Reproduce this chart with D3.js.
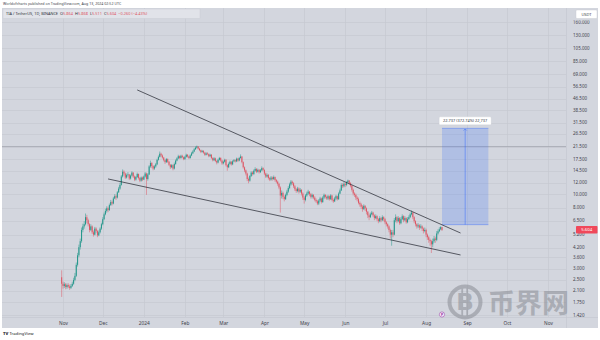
<!DOCTYPE html>
<html>
<head>
<meta charset="utf-8">
<script src="https://cdn.jsdelivr.net/npm/d3@7"></script>
<style>
  html, body { margin: 0; padding: 0; background: #ffffff; }
  svg { display: block; font-family: "Noto Sans", Roboto, "Liberation Sans", sans-serif; }
</style>
</head>
<body>
<svg id="chart" width="600" height="340"></svg>
<script>
// TIA / TetherUS daily candles, Binance, from 2023-10-31 to 2024-08-13
const startDay = "2023-10-31";
const firstOpen = 2.61;

const closes = [
  2.35, 2.27, 2.33, 2.23, 2.30, 2.25, 2.20, 2.27, 2.35, 2.50,
  2.67, 3.19, 3.72, 4.24, 4.67, 5.60, 5.93, 6.14, 6.88, 6.55,
  6.14, 5.60, 5.93, 5.39, 5.19, 5.72, 5.50, 5.13, 5.39, 5.72,
  6.14, 6.66, 7.20, 7.61, 7.94, 7.72, 8.36, 8.78, 8.57, 9.30,
  9.65, 9.44, 10.28, 10.91, 11.57, 13.26, 14.33, 13.91, 13.04, 13.57,
  13.70, 12.83, 13.47, 14.12, 13.26, 12.62, 13.15, 13.81, 12.94, 12.41,
  13.04, 12.62, 13.26, 13.91, 12.73, 13.70, 15.60, 16.50, 15.70, 15.07,
  15.60, 16.13, 17.35, 18.20, 19.15, 18.62, 17.99, 17.25, 16.72, 17.56,
  16.82, 16.02, 15.39, 15.92, 15.07, 16.23, 17.14, 17.77, 18.41, 17.88,
  18.52, 18.09, 17.56, 18.20, 18.83, 18.30, 17.88, 18.62, 19.26, 19.84,
  20.58, 21.11, 21.54, 20.80, 20.27, 19.73, 20.05, 19.47, 18.83, 19.26,
  19.04, 18.41, 18.83, 17.88, 17.25, 17.77, 17.03, 16.61, 17.35, 17.88,
  17.14, 16.40, 16.82, 17.35, 15.92, 15.39, 16.23, 16.82, 16.13, 16.93,
  17.25, 16.93, 17.67, 17.14, 17.88, 18.30, 16.72, 15.39, 14.65, 13.91,
  12.73, 12.41, 13.36, 14.12, 13.81, 14.55, 14.97, 14.33, 14.76, 14.23,
  14.65, 15.18, 14.76, 13.91, 13.26, 13.57, 12.94, 12.62, 13.04, 12.73,
  13.15, 12.52, 12.20, 11.78, 11.12, 9.76, 10.18, 9.55, 9.20, 9.86,
  10.39, 11.01, 11.68, 12.20, 11.89, 11.33, 10.80, 10.49, 10.91, 10.39,
  10.70, 10.07, 9.44, 9.09, 9.76, 10.07, 10.39, 9.97, 9.55, 9.86,
  9.44, 9.09, 8.88, 8.57, 8.99, 9.30, 8.78, 9.44, 9.86, 9.55,
  9.30, 9.65, 9.20, 9.76, 9.09, 8.88, 9.30, 9.65, 9.20, 10.07,
  10.59, 11.57, 11.33, 11.78, 11.57, 12.10, 12.41, 11.89, 11.43, 10.70,
  10.07, 9.86, 9.44, 9.20, 8.67, 8.46, 8.15, 7.84, 8.26, 7.94,
  7.51, 7.09, 6.88, 7.20, 7.41, 7.09, 6.78, 6.99, 6.66, 6.45,
  6.78, 6.55, 6.88, 6.66, 6.34, 6.14, 5.93, 5.60, 5.19, 5.39,
  5.19, 6.55, 6.88, 6.45, 6.78, 6.24, 6.66, 6.99, 6.55, 6.78,
  6.34, 6.66, 6.88, 7.20, 7.41, 6.88, 6.45, 6.14, 5.93, 6.03,
  5.82, 5.93, 5.72, 5.50, 5.60, 5.19, 4.98, 4.77, 4.67, 4.44,
  4.67, 4.87, 4.77, 5.29, 5.48, 5.66, 5.864, 5.604
];

const highs = [
  2.92, 2.43, 2.41, 2.38, 2.36, 2.37, 2.32, 2.34, 2.43, 2.59,
  2.80, 3.31, 3.87, 4.42, 4.87, 5.82, 6.19, 6.45, 7.30, 7.14,
  6.71, 6.24, 6.14, 6.03, 5.55, 5.88, 5.84, 5.60, 5.55, 5.84,
  6.29, 6.88, 7.41, 7.89, 8.20, 8.15, 8.57, 9.09, 8.99, 9.55,
  9.97, 9.91, 10.49, 11.22, 11.99, 13.57, 14.86, 14.65, 14.12, 13.91,
  14.23, 13.81, 13.70, 14.44, 14.23, 13.47, 13.36, 14.12, 13.91, 13.15,
  13.26, 13.26, 13.47, 14.23, 14.12, 14.02, 15.92, 17.14, 16.72, 15.92,
  15.92, 16.50, 17.67, 18.62, 19.84, 19.47, 18.94, 18.20, 17.46, 17.88,
  17.77, 17.03, 16.23, 16.23, 16.13, 16.61, 17.46, 18.09, 18.83, 18.62,
  18.83, 18.83, 18.30, 18.52, 19.15, 19.04, 18.52, 18.94, 19.73, 20.27,
  21.01, 21.54, 21.85, 21.60, 21.01, 20.48, 20.37, 20.27, 19.73, 19.63,
  19.63, 19.26, 19.15, 19.04, 18.09, 18.09, 17.99, 17.25, 17.67, 18.20,
  18.09, 17.35, 17.14, 17.67, 17.56, 16.13, 16.61, 17.14, 17.03, 17.25,
  17.56, 17.46, 17.99, 17.88, 18.20, 18.94, 18.41, 16.93, 15.60, 14.86,
  14.12, 13.04, 13.57, 14.44, 14.44, 14.86, 15.39, 15.18, 15.07, 14.97,
  14.97, 15.60, 15.39, 14.86, 14.12, 13.91, 13.81, 13.15, 13.36, 13.26,
  13.47, 13.26, 12.73, 12.41, 11.99, 11.33, 10.59, 10.39, 9.76, 10.07,
  10.70, 11.33, 11.99, 12.52, 12.41, 12.10, 11.57, 11.01, 11.22, 11.12,
  11.01, 10.80, 10.28, 9.65, 9.97, 10.39, 10.70, 10.49, 10.18, 10.07,
  9.97, 9.65, 9.30, 9.09, 9.20, 9.55, 9.44, 9.65, 10.07, 9.97,
  9.76, 9.86, 9.76, 9.97, 9.86, 9.30, 9.55, 9.86, 9.76, 10.28,
  10.91, 11.89, 11.89, 12.10, 11.99, 12.31, 12.62, 12.52, 12.10, 11.57,
  10.91, 10.28, 10.07, 9.65, 9.44, 8.88, 8.67, 8.36, 8.46, 8.36,
  8.05, 7.61, 7.30, 7.41, 7.61, 7.51, 7.20, 7.20, 7.09, 6.78,
  6.99, 6.88, 7.09, 6.99, 6.78, 6.45, 6.24, 6.03, 5.72, 5.60,
  5.60, 6.78, 7.20, 6.99, 6.99, 6.88, 6.88, 7.20, 7.09, 6.99,
  6.88, 6.88, 7.09, 7.41, 7.67, 7.51, 6.99, 6.55, 6.24, 6.24,
  6.14, 6.14, 6.03, 5.82, 5.82, 5.72, 5.29, 5.08, 4.87, 4.77,
  4.87, 5.08, 5.03, 5.50, 5.66, 5.85, 5.95, 5.868
];

const lows = [
  1.90, 2.17, 2.20, 2.15, 2.17, 2.19, 2.13, 2.16, 2.23, 2.31,
  2.45, 2.62, 3.10, 3.61, 4.08, 4.55, 5.39, 5.72, 6.03, 6.24,
  5.93, 5.39, 5.50, 5.24, 5.03, 5.13, 5.34, 4.98, 5.06, 5.29,
  5.60, 6.03, 6.55, 7.09, 7.41, 7.46, 7.61, 8.26, 8.31, 8.46,
  9.20, 9.09, 9.30, 10.18, 10.70, 11.43, 13.04, 13.47, 12.73, 12.83,
  13.26, 12.52, 12.62, 13.26, 12.94, 12.31, 12.41, 12.94, 12.62, 12.10,
  12.20, 12.31, 12.52, 13.04, 9.86, 12.41, 13.57, 15.28, 15.18, 14.65,
  14.76, 15.28, 15.92, 17.14, 17.99, 18.20, 17.67, 16.93, 16.23, 16.50,
  16.50, 15.70, 14.97, 15.18, 14.65, 14.86, 16.02, 16.93, 17.56, 17.56,
  17.67, 17.77, 17.25, 17.35, 17.99, 17.99, 17.56, 17.67, 18.41, 19.04,
  19.63, 20.37, 20.80, 20.48, 19.95, 19.36, 19.47, 19.15, 18.52, 18.62,
  18.73, 18.09, 18.20, 17.56, 16.93, 17.03, 16.72, 16.13, 16.40, 17.14,
  16.82, 16.02, 16.13, 16.61, 15.60, 14.55, 15.18, 16.02, 15.81, 15.92,
  16.72, 16.61, 16.72, 16.82, 16.93, 17.67, 16.40, 15.07, 14.23, 13.49,
  12.31, 11.89, 12.20, 13.15, 13.47, 13.57, 14.33, 14.02, 14.12, 13.91,
  14.02, 14.44, 14.44, 13.57, 12.94, 13.04, 12.62, 12.31, 12.41, 12.41,
  12.52, 12.20, 11.89, 11.43, 10.80, 7.41, 9.30, 9.20, 8.88, 9.09,
  9.65, 10.18, 10.80, 11.43, 11.57, 11.01, 10.49, 10.18, 10.28, 10.07,
  10.18, 9.76, 9.09, 8.57, 8.88, 9.55, 9.86, 9.65, 9.30, 9.30,
  9.20, 8.88, 8.67, 8.36, 8.36, 8.78, 8.57, 8.67, 9.20, 9.30,
  9.09, 9.09, 8.99, 9.09, 8.88, 8.67, 8.78, 9.09, 8.99, 9.09,
  9.97, 10.49, 11.01, 11.12, 11.22, 11.33, 11.89, 11.57, 11.12, 10.39,
  9.76, 9.55, 9.09, 8.88, 8.46, 8.15, 7.84, 7.51, 7.72, 7.61,
  7.20, 6.78, 6.55, 6.78, 7.09, 6.88, 6.55, 6.66, 6.45, 6.24,
  6.34, 6.34, 6.45, 6.45, 6.14, 5.93, 5.72, 5.39, 4.87, 4.34,
  4.98, 5.13, 6.34, 6.24, 6.34, 6.08, 6.14, 6.55, 6.34, 6.45,
  6.19, 6.24, 6.55, 6.78, 7.09, 6.66, 6.24, 5.93, 5.72, 5.77,
  5.60, 5.72, 5.50, 5.29, 5.39, 4.98, 4.77, 4.55, 4.34, 3.86,
  4.24, 4.55, 4.55, 4.67, 5.19, 5.40, 5.58, 5.511
];

// Price scale labels (log scale) and month labels
const priceTicks = [160, 130, 105, 85, 69, 56.5, 46.5, 38.5, 31.5, 26.5, 21.5, 17.5, 14.5,
                    12, 10, 8, 6.5, 5.2, 4.2, 3.6, 3.0, 2.5, 2.1, 1.75, 1.42];
const monthTicks = ["2023-11-01", "2023-12-01", "2024-01-01", "2024-02-01", "2024-03-01",
                    "2024-04-01", "2024-05-01", "2024-06-01", "2024-07-01", "2024-08-01",
                    "2024-09-01", "2024-10-01", "2024-11-01"];
const monthLabels = ["Nov", "Dec", "2024", "Feb", "Mar", "Apr", "May", "Jun", "Jul", "Aug", "Sep", "Oct", "Nov"];

// Drawings: falling wedge lines, horizontal level and projected price range
const trendUpper = [["2023-12-27", 53.6], ["2024-08-27", 5.33]];
const trendLower = [["2023-12-05", 12.75], ["2024-08-27", 3.74]];
const levelLine = 21.5;
const rangeDates = ["2024-08-13", "2024-09-17"];
const rangeLevels = [6.1, 28.837];
const lastPrice = 5.604;

const W = 600, H = 340;
const pane = { left: 2, top: 8, right: 566, bottom: 317 };
const bg = "#d3d6de";
const gridColor = "#c6c9d1";
const upColor = "#22968a";
const downColor = "#de5563";
const textColor = "#3e414b";

const svg = d3.select("#chart");
const parse = d3.utcParse("%Y-%m-%d");

const x = d3.scaleUtc()
  .domain([parse("2023-11-01"), parse("2024-11-01")])
  .range([63, 548]);
const y = d3.scaleLog()
  .domain([1.42, 130])
  .range([315, 35]);

// candle records
const day0 = parse(startDay);
const candles = closes.map((c, i) => ({
  date: d3.utcDay.offset(day0, i),
  open: i === 0 ? firstOpen : closes[i - 1],
  close: c,
  high: highs[i],
  low: lows[i]
}));

// frame
svg.append("rect").attr("x", 0).attr("y", 0).attr("width", W).attr("height", H).attr("fill", "#ffffff");
svg.append("rect").attr("x", pane.left).attr("y", pane.top)
  .attr("width", 596).attr("height", 320).attr("fill", bg);

const defs = svg.append("defs");
defs.append("clipPath").attr("id", "pane")
  .append("rect").attr("x", pane.left).attr("y", pane.top)
  .attr("width", pane.right - pane.left).attr("height", pane.bottom - pane.top);
// price scale labels start below the currency box
defs.append("clipPath").attr("id", "scale")
  .append("rect").attr("x", pane.right).attr("y", 20.6)
  .attr("width", 600 - pane.right).attr("height", pane.bottom - 20.6);

const plot = svg.append("g").attr("clip-path", "url(#pane)");

// grid
plot.append("g").selectAll("line").data(priceTicks).join("line")
  .attr("x1", pane.left).attr("x2", pane.right)
  .attr("y1", d => Math.round(y(d)) + 0.5).attr("y2", d => Math.round(y(d)) + 0.5)
  .attr("stroke", gridColor).attr("stroke-width", 0.7);
plot.append("g").selectAll("line").data(monthTicks).join("line")
  .attr("x1", d => Math.round(x(parse(d))) + 0.5).attr("x2", d => Math.round(x(parse(d))) + 0.5)
  .attr("y1", pane.top).attr("y2", pane.bottom)
  .attr("stroke", gridColor).attr("stroke-width", 0.7);

// horizontal level
plot.append("line")
  .attr("x1", pane.left).attr("x2", pane.right)
  .attr("y1", y(levelLine)).attr("y2", y(levelLine))
  .attr("stroke", "#a3a6ae").attr("stroke-width", 0.8);

// projected range box
const rx0 = x(parse(rangeDates[0])), rx1 = x(parse(rangeDates[1]));
const ry0 = y(rangeLevels[0]), ry1 = y(rangeLevels[1]);
const rangeG = plot.append("g");
rangeG.append("rect")
  .attr("x", rx0).attr("y", ry1).attr("width", rx1 - rx0).attr("height", ry0 - ry1)
  .attr("fill", "rgba(41,98,255,0.2)");
rangeG.selectAll("line.edge").data([ry0, ry1]).join("line").attr("class", "edge")
  .attr("x1", rx0).attr("x2", rx1).attr("y1", d => d).attr("y2", d => d)
  .attr("stroke", "rgba(41,98,255,0.55)").attr("stroke-width", 0.7);
const rmx = (rx0 + rx1) / 2;
rangeG.append("line")
  .attr("x1", rmx).attr("x2", rmx).attr("y1", ry0).attr("y2", ry1 + 0.8)
  .attr("stroke", "rgba(41,98,255,0.75)").attr("stroke-width", 0.6);
rangeG.append("path")
  .attr("d", `M${rmx - 1.6},${ry1 + 2.2} L${rmx},${ry1 + 0.6} L${rmx + 1.6},${ry1 + 2.2}`)
  .attr("fill", "none").attr("stroke", "rgba(41,98,255,0.8)").attr("stroke-width", 0.6);

// candles
const step = x(d3.utcDay.offset(day0, 1)) - x(day0);
const bodyW = Math.max(0.9, step * 0.75);
const cg = plot.append("g");
cg.selectAll("line").data(candles).join("line")
  .attr("x1", d => x(d.date)).attr("x2", d => x(d.date))
  .attr("y1", d => y(d.high)).attr("y2", d => y(d.low))
  .attr("stroke", d => d.close >= d.open ? upColor : downColor)
  .attr("stroke-width", 0.5);
cg.selectAll("rect").data(candles).join("rect")
  .attr("x", d => x(d.date) - bodyW / 2)
  .attr("width", bodyW)
  .attr("y", d => y(Math.max(d.open, d.close)))
  .attr("height", d => Math.max(0.6, Math.abs(y(d.open) - y(d.close))))
  .attr("fill", d => d.close >= d.open ? upColor : downColor);

// wedge lines
const line = d3.line().x(d => x(parse(d[0]))).y(d => y(d[1]));
plot.selectAll("path.trend").data([trendUpper, trendLower]).join("path").attr("class", "trend")
  .attr("d", line).attr("fill", "none")
  .attr("stroke", "#2b2e37").attr("stroke-width", 0.75);

// range label
const diff = rangeLevels[1] - rangeLevels[0];
const pct = diff / rangeLevels[0] * 100;
const rangeText = `${diff.toFixed(3)} (${pct.toFixed(2)}%) ${d3.format(",")(Math.round(diff * 1000))}`;
const lbl = svg.append("g");
lbl.append("rect").attr("x", rmx - 26).attr("y", ry1 - 11.5).attr("width", 52).attr("height", 8)
  .attr("rx", 1.2).attr("fill", "#ffffff").attr("stroke", "#c9ccd4").attr("stroke-width", 0.3);
lbl.append("text").attr("x", rmx).attr("y", ry1 - 6.1).attr("text-anchor", "middle")
  .attr("font-size", 3.9).attr("fill", "#30333c").text(rangeText);

// separators for the axes
svg.append("line").attr("x1", pane.left).attr("x2", 598).attr("y1", pane.bottom + 0.5).attr("y2", pane.bottom + 0.5)
  .attr("stroke", "#c3c6ce").attr("stroke-width", 0.6);
svg.append("line").attr("x1", pane.right + 0.5).attr("x2", pane.right + 0.5).attr("y1", pane.top).attr("y2", 328)
  .attr("stroke", "#c3c6ce").attr("stroke-width", 0.6);

// price axis
const fmt = d3.format(".3f");
svg.append("g").attr("clip-path", "url(#scale)").selectAll("text").data(priceTicks).join("text")
  .attr("x", 573).attr("y", d => y(d) + 1.5)
  .attr("font-size", 4.5).attr("fill", textColor).text(d => fmt(d));

// currency box
svg.append("rect").attr("x", 576).attr("y", 10).attr("width", 21).attr("height", 8.5)
  .attr("rx", 1).attr("fill", "#ffffff").attr("stroke", "#c4c7cf").attr("stroke-width", 0.4);
svg.append("text").attr("x", 586.5).attr("y", 15.8).attr("text-anchor", "middle")
  .attr("font-size", 4).attr("fill", textColor).text("USDT");

// last price marker
const ly = y(lastPrice);
svg.append("rect").attr("x", 576).attr("y", ly - 3.8).attr("width", 21.5).attr("height", 7.5)
  .attr("rx", 0.8).attr("fill", "#f0485a");
svg.append("text").attr("x", 586.7).attr("y", ly + 1.5).attr("text-anchor", "middle")
  .attr("font-size", 4.3).attr("fill", "#ffffff").text(fmt(lastPrice));

// time axis
const xAxis = d3.axisBottom(x)
  .tickValues(monthTicks.map(parse))
  .tickFormat((d, i) => monthLabels[i])
  .tickSize(0).tickPadding(0);
const xa = svg.append("g").attr("transform", `translate(0,${pane.bottom + 4.5})`).call(xAxis);
xa.select(".domain").remove();
xa.selectAll("text").attr("font-size", 4.8).attr("fill", textColor)
  .attr("font-family", "\"Noto Sans\", Roboto, sans-serif");

// event marker on the time axis
svg.append("circle").attr("cx", x(parse("2024-08-13"))).attr("cy", 314.5).attr("r", 2.6)
  .attr("fill", "#f6ecf8").attr("stroke", "#8e2a9e").attr("stroke-width", 0.5);
svg.append("text").attr("x", x(parse("2024-08-13"))).attr("y", 315.9).attr("text-anchor", "middle")
  .attr("font-size", 3.4).attr("font-weight", 700).attr("fill", "#8e2a9e").text("P");

// header
svg.append("text").attr("x", 3).attr("y", 5.2).attr("font-size", 3.6).attr("fill", "#40434c")
  .text("Worldofcharts published on TradingView.com, Aug 13, 2024 02:52 UTC");
svg.append("rect").attr("x", 3).attr("y", 9).attr("width", 197).attr("height", 9.5)
  .attr("fill", "#e1e3e9").attr("stroke", "#c5c8d0").attr("stroke-width", 0.4);
const legend = svg.append("text").attr("x", 6).attr("y", 15.2).attr("font-size", 3.9).attr("fill", "#30333c")
  .attr("style", "white-space:pre");
const last = candles[candles.length - 1];
const chg = last.close - last.open;
const parts = [
  ["TIA / TetherUS, 1D, BINANCE  ", "#30333c"],
  ["O", "#30333c"], [last.open.toFixed(3) + "  ", downColor],
  ["H", "#30333c"], [last.high.toFixed(3) + "  ", downColor],
  ["L", "#30333c"], [last.low.toFixed(3) + "  ", downColor],
  ["C", "#30333c"], [last.close.toFixed(3) + "  ", downColor],
  [`${chg.toFixed(3).replace("-", "\u2212")} (${(chg / last.open * 100).toFixed(2).replace("-", "\u2212")}%)`, downColor]
];
legend.selectAll("tspan").data(parts).join("tspan")
  .attr("fill", d => d[1]).text(d => d[0]);

// footer logo
svg.append("text").attr("x", 3).attr("y", 335).attr("font-size", 4.2).attr("font-weight", 800)
  .attr("fill", "#131722").text("TV");
svg.append("text").attr("x", 9.5).attr("y", 335).attr("font-size", 4.2)
  .attr("fill", "#131722").text("TradingView");

// watermark
const wm = svg.append("g").attr("opacity", 0.5).attr("fill", "#83868e");
wm.append("circle").attr("cx", 465).attr("cy", 302).attr("r", 15.5)
  .attr("fill", "none").attr("stroke", "#83868e").attr("stroke-width", 4);
wm.append("text").attr("x", 465).attr("y", 310).attr("text-anchor", "middle")
  .attr("font-size", 23).attr("font-weight", 700).attr("font-family", "\"DejaVu Sans\", sans-serif")
  .text("B");
wm.selectAll("rect.bar").data([-2.8, 2.2]).join("rect").attr("class", "bar")
  .attr("x", d => 465 + d - 0.9).attr("y", 288).attr("width", 1.8).attr("height", 28);
wm.append("text").attr("x", 488).attr("y", 312.5).attr("font-size", 27).attr("font-weight", 700)
  .attr("font-family", "\"Noto Sans CJK SC\", sans-serif").text("币界网");
</script>
</body>
</html>
